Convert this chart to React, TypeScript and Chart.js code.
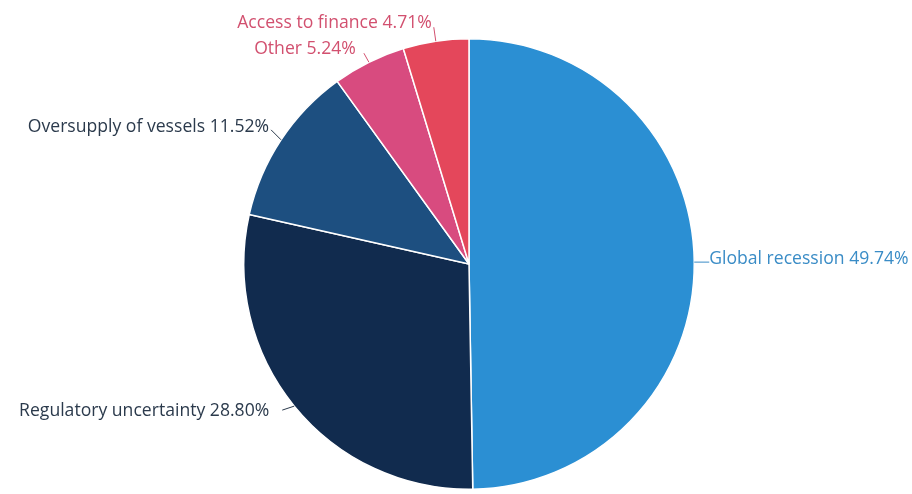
import React, { useEffect, useRef } from "react";
import { Chart, registerables } from "chart.js";

Chart.register(...registerables);

const categories = [
  "Global recession",
  "Regulatory uncertainty",
  "Oversupply of vessels",
  "Other",
  "Access to finance",
];
const values = [49.74, 28.8, 11.52, 5.24, 4.71];
const valueLabels = ["49.74%", "28.80%", "11.52%", "5.24%", "4.71%"];

const sliceColors = ["#2b8fd3", "#112b4e", "#1d4f80", "#d84b7f", "#e4475b"];
const textColors = ["#3a8cc6", "#2b3a4c", "#2b3a4c", "#d2506f", "#d2506f"];

// leader-line geometry relative to slice edge point: [elbowDx, elbowDy, textDx, textDy, align]
const leaders: [number, number, number, number, CanvasTextAlign][] = [
  [15, 0, 15, -3, "left"],
  [-12, 4, -25, 5, "right"],
  [-10, -10, -12, -13, "right"],
  [-5, -9, -13, -13, "right"],
  [-2, -14, -4, -18, "right"],
];

const labelPlugin = {
  id: "pieLabels",
  afterDraw(chart: any) {
    const ctx = chart.ctx;
    const meta = chart.getDatasetMeta(0);
    ctx.save();
    ctx.font = "17.6px 'Open Sans', sans-serif";
    ctx.textBaseline = "middle";
    meta.data.forEach((arc: any, i: number) => {
      const mid = (arc.startAngle + arc.endAngle) / 2;
      const r = arc.outerRadius;
      const px = arc.x + Math.cos(mid) * r;
      const py = arc.y + Math.sin(mid) * r;
      const [ex, ey, tx, ty, align] = leaders[i];
      ctx.strokeStyle = textColors[i];
      ctx.lineWidth = 1;
      ctx.beginPath();
      ctx.moveTo(px, py);
      ctx.lineTo(px + ex, py + ey);
      ctx.stroke();
      ctx.fillStyle = textColors[i];
      ctx.textAlign = align;
      ctx.fillText(`${categories[i]} ${valueLabels[i]}`, px + tx, py + ty);
    });
    ctx.restore();
  },
};

export default function App() {
  const ref = useRef<HTMLCanvasElement>(null);
  useEffect(() => {
    const chart = new Chart(ref.current!, {
      type: "pie",
      data: {
        labels: categories,
        datasets: [
          {
            data: values,
            backgroundColor: sliceColors,
            borderColor: "#ffffff",
            borderWidth: 1.5,
          },
        ],
      },
      options: {
        animation: false,
        responsive: false,
        layout: { padding: { left: 243, right: 217, top: 38, bottom: 4 } },
        plugins: {
          legend: { display: false },
          tooltip: { enabled: false },
        },
      },
      plugins: [labelPlugin],
    });
    return () => chart.destroy();
  }, []);
  return (
    <div style={{ position: "fixed", left: 0, top: 0, width: 912, height: 494, background: "#fff" }}>
      <canvas ref={ref} width={912} height={494} style={{ width: 912, height: 494 }} />
    </div>
  );
}
